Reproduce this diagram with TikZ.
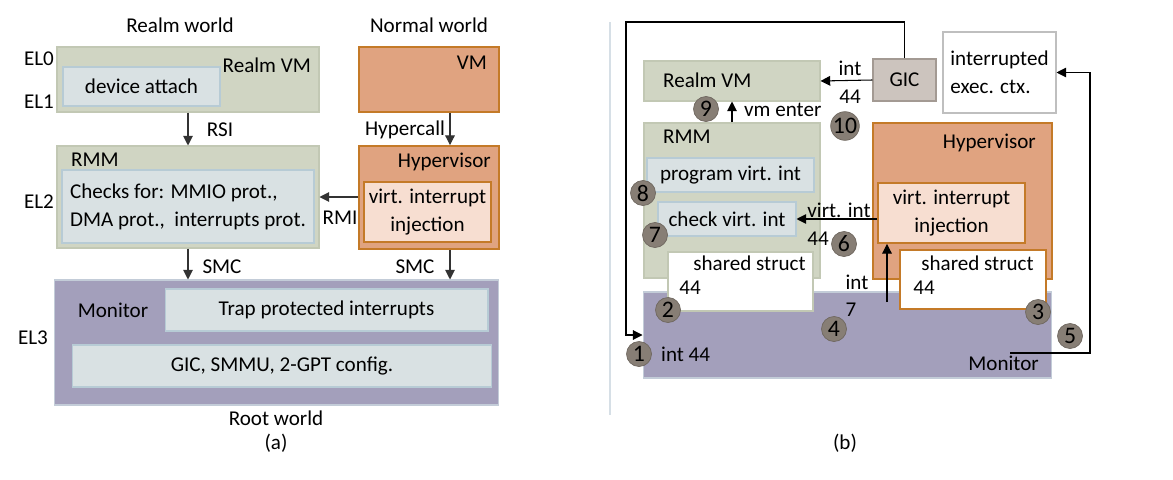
\documentclass[tikz,border=0pt]{standalone}
\usepackage{fontspec}
\setmainfont{Carlito}
\usetikzlibrary{arrows.meta,positioning}
\definecolor{realmfill}{HTML}{D0D5C3}
\definecolor{realmline}{HTML}{C2C8B4}
\definecolor{bluefill}{HTML}{D9E1E3}
\definecolor{blueline}{HTML}{B7CBD5}
\definecolor{normfill}{HTML}{E0A380}
\definecolor{normline}{HTML}{C47A28}
\definecolor{peachfill}{HTML}{F7DED1}
\definecolor{monfill}{HTML}{A39FBB}
\definecolor{monline}{HTML}{C3CCD8}
\definecolor{gicfill}{HTML}{CCC4BE}
\definecolor{gicline}{HTML}{A39A93}
\definecolor{numfill}{HTML}{877E75}
\definecolor{numline}{HTML}{6F675F}
\definecolor{divider}{HTML}{D6DFE6}

\begin{document}
\begin{tikzpicture}[x=0.02cm, y=-0.02cm, font=\fontsize{12}{16}\selectfont,
	box/.style={draw, inner sep=1pt, line width=0.6pt},
	realmbox/.style={box, fill=realmfill, draw=realmline},
	bluebox/.style={box, fill=bluefill, draw=blueline},
	normbox/.style={box, fill=normfill, draw=normline, line width=1.1pt},
	peachbox/.style={box, fill=peachfill, draw=normline, line width=1.1pt},
	monbox/.style={box, fill=monfill, draw=monline},
	gicbox/.style={box, fill=gicfill, draw=gicline},
	whitebox/.style={box, fill=white},
	arr/.style={-{Triangle[length=5.5pt,width=5.5pt]}, line width=0.6pt, black!80},
	num/.style={circle, fill=numfill, draw=numline, line width=0.4pt, minimum size=0.5cm, inner sep=0pt,
		font=\fontsize{13.5}{14}\selectfont}]
	\useasboundingbox (0,0) rectangle (1173,480);

	% (a) worlds and levels
	\node (realmw) at (180,25) {Realm world};
	\node (normw) at (429,25) {Normal world};
	\node (elz) at (39,59) {EL0};
	\node (elo) at (39,102) {EL1};
	\node (elt) at (39,202) {EL2};
	\node (elh) at (33,338) {EL3};

	\node[realmbox, minimum width=5.24cm, minimum height=1.30cm] (rvmA) at (188,79.5) {};
	\node[anchor=east] (rvmAt) at (317,65) {Realm VM};
	\node[bluebox, minimum width=3.14cm, minimum height=0.78cm] (devA) at (141.5,86.5) {device attach};

	\node[normbox, minimum width=2.80cm, minimum height=1.30cm] (vmA) at (429,79.5) {};
	\node[anchor=east] (vmAt) at (493,63) {VM};

	\node[realmbox, minimum width=5.24cm, minimum height=2.04cm] (rmmA) at (188,197) {};
	\node[anchor=west] (rmmAt) at (65,160) {RMM};
	\node[bluebox, minimum width=5.04cm, minimum height=1.46cm, align=left] (chkA) at (188,206.5)
		{Checks for: MMIO prot.,\\DMA prot.,\ \ interrupts prot.};

	\node[normbox, minimum width=2.80cm, minimum height=2.06cm] (hypA) at (429,197.5) {};
	\node[anchor=east] (hypAt) at (497,162) {Hypervisor};
	\node[peachbox, minimum width=2.54cm, minimum height=1.20cm, align=center] (injA) at (427.5,212)
		{virt. interrupt\\injection};

	\node[monbox, minimum width=8.90cm, minimum height=2.50cm] (monA) at (276.5,342.5) {};
	\node (monAt) at (113,310) {Monitor};
	\node[bluebox, minimum width=6.46cm, minimum height=0.84cm] (trapA) at (326.5,310) {Trap protected interrupts};
	\node[bluebox, minimum width=8.40cm, minimum height=0.84cm] (gicA) at (282,366) {GIC, SMMU, 2-GPT config.};

	\node (rootw) at (276,418) {Root world};
	\node (capa) at (276,443) {(a)};

	% (a) calls
	\coordinate (hcx) at (450,0);
	\coordinate (rmiy) at (0,197);
	\draw[arr] (rvmA.south) -- (rmmA.north);
	\node (rsi) at (220,130) {RSI};
	\draw[arr] (vmA.south -| hcx) -- (hypA.north -| hcx);
	\node (hcall) at (405,130) {Hypercall};
	\draw[arr] (hypA.west |- rmiy) -- (rmmA.east |- rmiy);
	\node (rmi) at (340,218) {RMI};
	\draw[arr] (rmmA.south) -- (monA.north -| rmmA.south);
	\node (smcl) at (222,267) {SMC};
	\draw[arr] (hypA.south -| hcx) -- (monA.north -| hcx);
	\node (smcr) at (415,267) {SMC};

	\draw[divider, line width=1pt] (610,22) -- (610,415);

	% (b) boxes
	\node[realmbox, minimum width=3.52cm, minimum height=0.80cm] (rvmB) at (732,81) {};
	\node[anchor=west] (rvmBt) at (657,80) {Realm VM};
	\node[gicbox, minimum width=1.26cm, minimum height=0.84cm] (gicB) at (904.5,80) {GIC};
	\node[box, draw=gray!50, minimum width=2.26cm, minimum height=1.62cm, align=left] (ctxB) at (999.5,72.5)
		{interrupted\\exec. ctx.};

	\node[realmbox, minimum width=3.52cm, minimum height=3.10cm] (rmmB) at (732,200.5) {};
	\node[anchor=west] (rmmBt) at (657,137) {RMM};
	\node[bluebox, minimum width=3.34cm, minimum height=0.68cm] (progB) at (730.5,175) {program virt. int};
	\node[bluebox, minimum width=2.76cm, minimum height=0.68cm] (chkB) at (727,219) {check virt. int};

	\node[normbox, minimum width=3.58cm, minimum height=3.12cm] (hypB) at (962.5,201) {};
	\node[anchor=east] (hypBt) at (1042,143) {Hypervisor};
	\node[peachbox, minimum width=2.94cm, minimum height=1.20cm, align=center] (injB) at (951.5,213)
		{virt. interrupt\\injection};

	\node[monbox, minimum width=8.18cm, minimum height=1.72cm] (monB) at (847.5,335) {};
	\node[anchor=east] (monBt) at (1045,363) {Monitor};

	\node[whitebox, draw=realmline, minimum width=2.90cm, minimum height=1.18cm] (shL) at (740.5,281.5) {};
	\node[anchor=west, inner sep=0pt] (shLt) at (693,263) {shared struct};
	\node[anchor=west, inner sep=0pt] (shLn) at (679,288) {44};
	\node[whitebox, draw=normline, line width=1.1pt, minimum width=2.92cm, minimum height=1.18cm] (shR) at (973,279.5) {};
	\node[anchor=west, inner sep=0pt] (shRt) at (921,263) {shared struct};
	\node[anchor=west, inner sep=0pt] (shRn) at (913,288) {44};

	% (b) flow
	\coordinate (lp) at (626,22);
	\draw[arr, black] (gicB.north) |- (lp) |- (monB.west);
	\draw[arr, black] (gicB.west) -- (rvmB.east);
	\node (intt) at (850,68) {int};
	\node (intn) at (850,97) {44};
	\draw[arr, black] (rmmB.north) -- (rvmB.south);
	\node[anchor=west] (vmen) at (738,110) {vm enter};
	\draw[arr, black] (injB.west |- chkB.east) -- (chkB.east);
	\node (vint) at (839,210) {virt. int};
	\node (vintn) at (818,239) {44};
	\coordinate (iseven) at (887,302);
	\draw[arr, black] (iseven) -- (iseven |- injB.south);
	\node (intb) at (857,282) {int};
	\node (intbn) at (851,310) {7};
	\node[anchor=west] (intf) at (655,354) {int 44};
	\coordinate (mfive) at (1010,353);
	\coordinate (rtop) at (1090,353);
	\draw[arr, black] (mfive) -- (rtop) |- (ctxB.east);

	% steps
	\node[num] (sone) at (639,354) {1};
	\node[num] (stwo) at (668,310) {2};
	\node[num] (sthree) at (1038,312) {3};
	\node[num] (sfour) at (834,329) {4};
	\node[num] (sfive) at (1070,336) {5};
	\node[num] (ssix) at (844,244) {6};
	\node[num] (sseven) at (655,235) {7};
	\node[num] (seight) at (643,193) {8};
	\node[num] (snine) at (706,109) {9};
	\node[num] (sten) at (845,126) {10};

	\node (capb) at (845,443) {(b)};
\end{tikzpicture}
\end{document}
